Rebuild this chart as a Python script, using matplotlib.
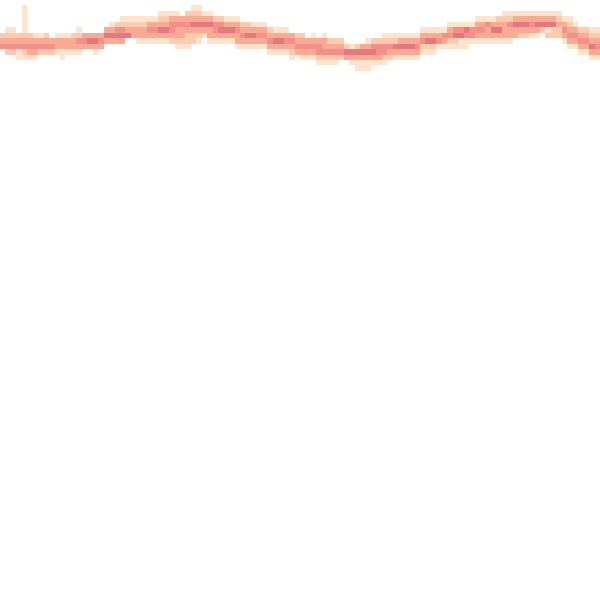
import numpy as np
import matplotlib
matplotlib.use('Agg')
import matplotlib.pyplot as plt
from matplotlib.colors import ListedColormap

# grid size (square), only the top rows hold anything
n_bins = 110

# density level per column, one char per row from the top (0 = empty)
column_levels = [
    "0000002340000", "0000012342000", "0000012342000", "0000002341100", "0111112342100",
    "0000002343100", "0000001343100", "0000001342000", "0000002342000", "0000000342000",
    "0000001331000", "0000001331100", "0000001331000", "0000002331000", "0000012431000",
    "0000003430000", "0000003530000", "0000003531000", "0000003430000", "0000035300000",
    "0000135300000", "0000245300000", "0001245300000", "0001235000000", "0001233000000",
    "0001233100000", "0001233100000", "0001343100000", "0001343100000", "0012353100000",
    "0012353100000", "0013443200000", "0013433210000", "0003433210000", "0023432210000",
    "0123532200000", "0123532100000", "0013531000000", "0013533100000", "0002443100000",
    "0002453100000", "0001353100000", "0001353100000", "0001343310000", "0000234310000",
    "0000235310000", "0000135310000", "0000134310000", "0000134310000", "0000023431000",
    "0000013531000", "0000013531000", "0000013431000", "0000003432100", "0000002343000",
    "0000002343100", "0000000343100", "0000001343100", "0000000344210", "0000001334210",
    "0000000234210", "0000000234210", "0000000234200", "0000000025300", "0000000015310",
    "0000000025311", "0000000035311", "0000000135311", "0000000245310", "0000000244310",
    "0000001244210", "0000001243200", "0000001253100", "0000001353100", "0000001353100",
    "0000001353100", "0000001343100", "0000013421000", "0000013521000", "0000013521000",
    "0000013410000", "0000014310000", "0000134210000", "0000145210000", "0000145110000",
    "0000154110000", "0000144100000", "0001343100000", "0001343100000", "0001433100000",
    "0001353100000", "0002353100000", "0012333100000", "0012433100000", "0013533000000",
    "0013532000000", "0013532000000", "0013431000000", "0013531000000", "0013520000000",
    "0013512000000", "0013522000000", "0012322000000", "0001343100000", "0001234310000",
    "0000134310000", "0000023431000", "0000023431000", "0000012353100", "0000012343100",
]

level_colors = ['#fee4cc', '#fdcbb0', '#f9aa94', '#f29089', '#e4787f']

grid = np.zeros((n_bins, n_bins))
for col, levels in enumerate(column_levels):
    for row, ch in enumerate(levels):
        grid[row, col] = int(ch)
grid = np.ma.masked_equal(grid, 0)

fig = plt.figure(figsize=(6, 6), dpi=100)
ax = fig.add_axes([0, 0, 1, 1])
cmap = ListedColormap(level_colors)
ax.pcolormesh(np.arange(n_bins + 1), np.arange(n_bins + 1), grid,
              cmap=cmap, vmin=0.5, vmax=5.5)
ax.set_xlim(0, n_bins)
ax.set_ylim(n_bins, 0)
ax.axis('off')

fig.savefig('out.png', dpi=100, facecolor='white')
plt.close(fig)
